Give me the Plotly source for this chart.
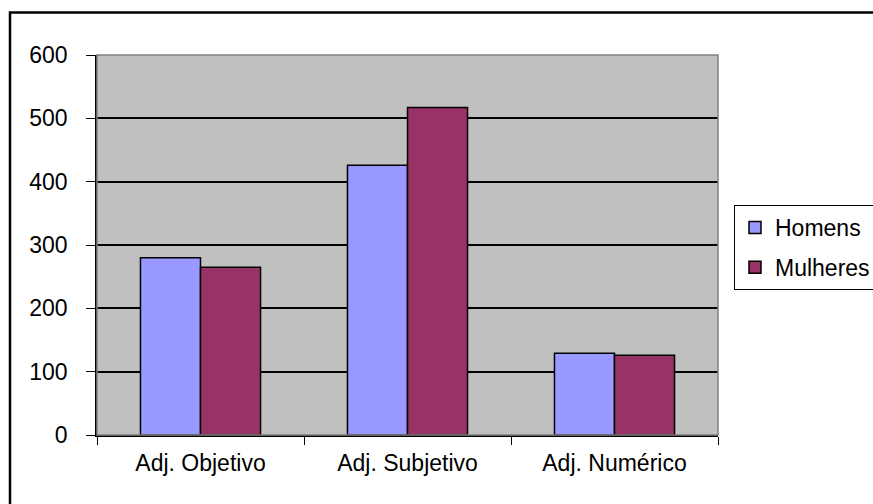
import plotly.graph_objects as go

categories = ["Adj. Objetivo", "Adj. Subjetivo", "Adj. Numérico"]
homens = [280, 426, 129]
mulheres = [265, 517, 126]
y_ticks = [0, 100, 200, 300, 400, 500, 600]

W, H = 873, 504
L, R, T, B = 97, 718, 55, 435
FONT = "Liberation Sans, Arial, sans-serif"

fig = go.Figure()
fig.add_trace(go.Bar(name="Homens", x=categories, y=homens, legendgroup="h",
                     marker=dict(color="#9999FF", line=dict(color="black", width=1.5))))
fig.add_trace(go.Bar(name="Mulheres", x=categories, y=mulheres, legendgroup="m",
                     marker=dict(color="#993366", line=dict(color="black", width=1.5))))

def px_x(p):
    return (p - L) / (R - L)

def px_y(p):
    return (B - p) / (B - T)

fig.update_layout(
    width=W, height=H,
    margin=dict(l=L, r=W - R, t=T, b=H - B, pad=0, autoexpand=False),
    paper_bgcolor="white",
    plot_bgcolor="#C0C0C0",
    barmode="group",
    bargap=0.42,
    bargroupgap=0,
    font=dict(family=FONT, size=22, color="black"),
    showlegend=True,
    legend=dict(
        x=px_x(734), y=px_y(205), xanchor="left", yanchor="top",
        bordercolor="black", borderwidth=1, bgcolor="white",
        font=dict(family=FONT, size=23, color="black"),
        tracegroupgap=7,
    ),
    xaxis=dict(
        showgrid=False, showline=True, linecolor="black", linewidth=1.5,
        ticks="outside", tickson="boundaries", ticklen=8, tickcolor="black",
        tickfont=dict(family=FONT, size=23), ticklabelstandoff=7,
    ),
    yaxis=dict(
        range=[0, 600], tickvals=y_ticks, showgrid=True, gridcolor="black",
        gridwidth=1.5, showline=True, linecolor="black", linewidth=1.5,
        ticks="outside", ticklen=9, tickcolor="black", zeroline=False,
        tickfont=dict(family=FONT, size=23), ticklabelstandoff=14,
    ),
    shapes=[
        dict(type="rect", xref="paper", yref="paper", x0=0, x1=1, y0=0, y1=1,
             line=dict(color="#808080", width=1.5), layer="above"),
        dict(type="rect", xref="paper", yref="paper",
             x0=px_x(10), x1=px_x(900), y0=px_y(530), y1=px_y(12.5),
             line=dict(color="black", width=2.5), layer="above"),
    ],
)

fig.write_html("out.html",
               config={"displayModeBar": False},
               post_script="document.body.style.margin='0';document.body.style.overflow='hidden';")
